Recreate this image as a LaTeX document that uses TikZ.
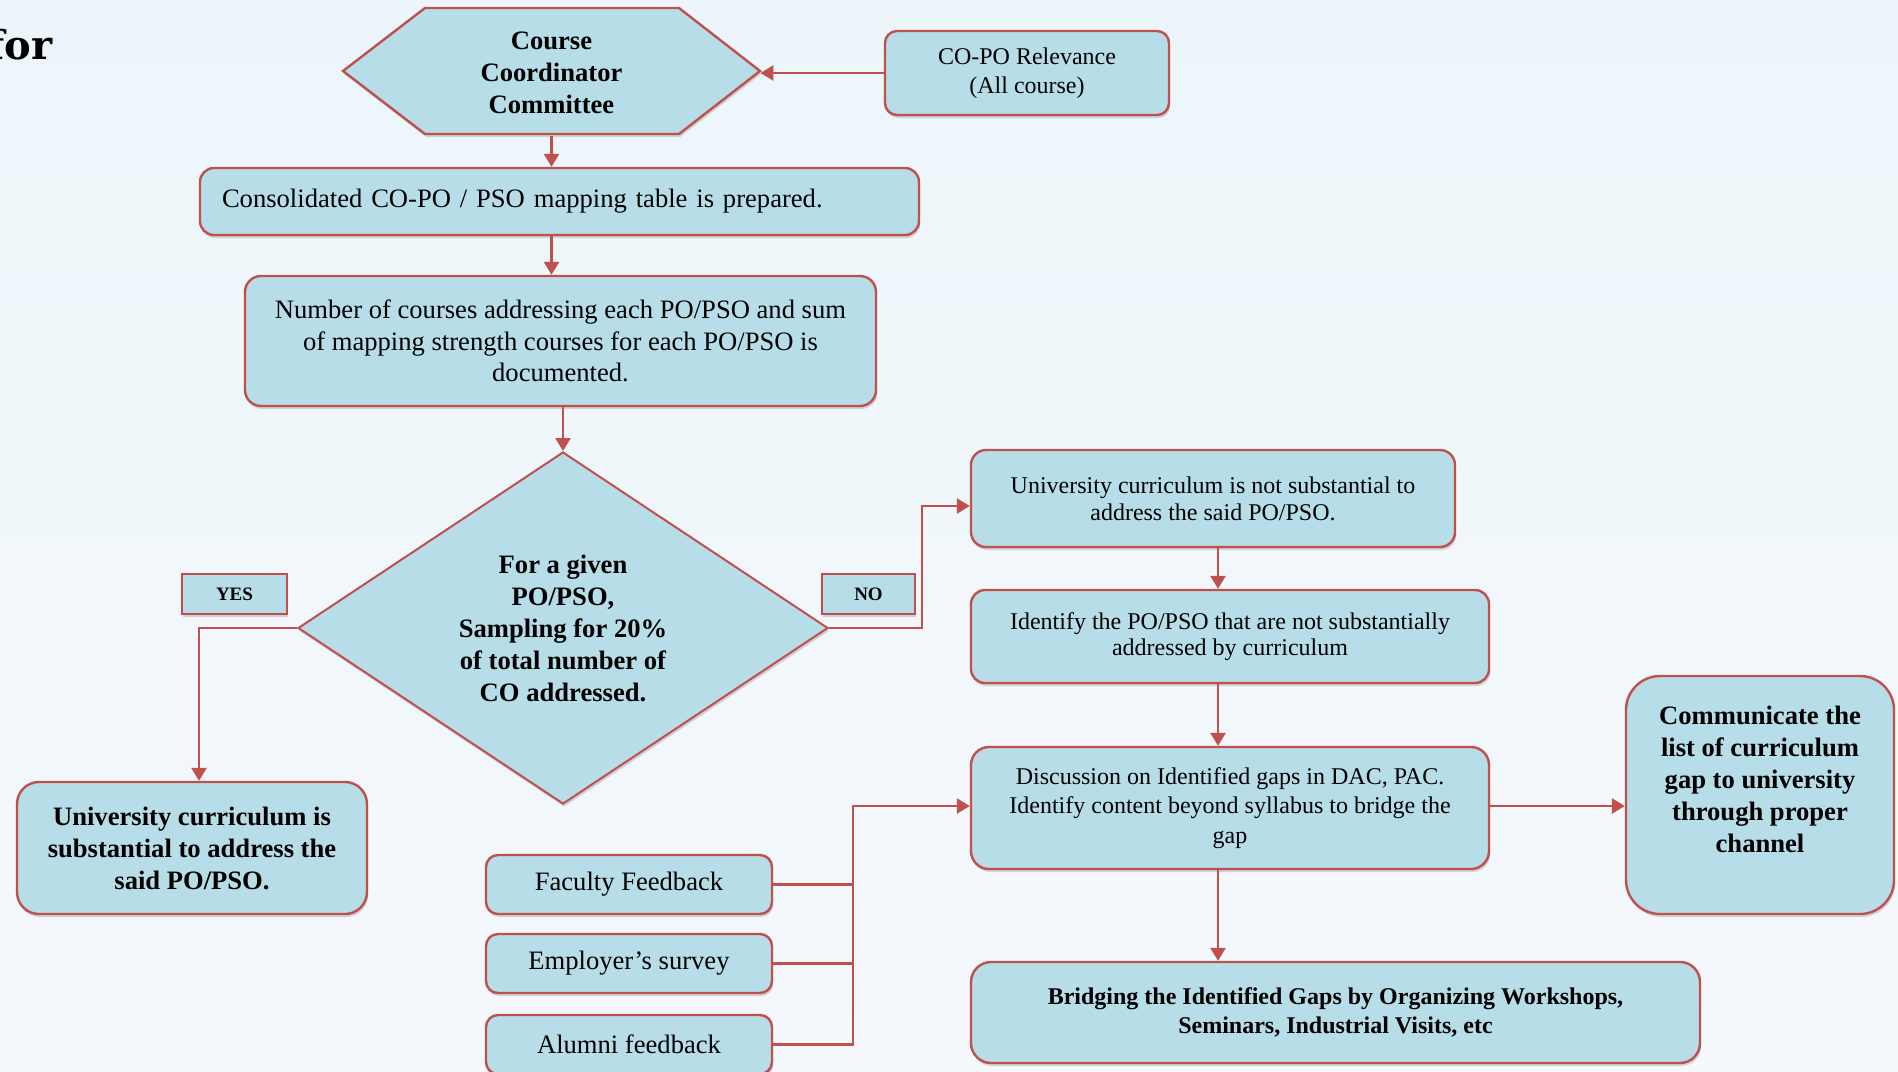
\documentclass[tikz,border=0pt]{standalone}
\usepackage{fontspec}
\setmainfont{Liberation Serif}
\newfontfamily\slabfont{DejaVu Serif}
\usetikzlibrary{shapes.geometric,arrows.meta,shadows}

\definecolor{boxfill}{RGB}{183,222,232}
\definecolor{boxline}{RGB}{192,80,77}
\definecolor{bgtop}{RGB}{236,246,250}
\definecolor{bgbottom}{RGB}{245,248,252}

\tikzset{
  softshadow/.style={drop shadow={shadow xshift=0.6pt, shadow yshift=-1.5pt, opacity=0.25, fill=black!60}},
  flowbox/.style={draw=boxline, fill=boxfill, line width=1.2pt, rounded corners=7pt,
    inner sep=0pt, align=center, softshadow},
  tagbox/.style={flowbox, rounded corners=0pt},
  link/.style={draw=boxline, line width=1.3pt},
  flowarrow/.style={link, -{Triangle[width=7.5pt,length=6.5pt]}},
  bigtxt/.style={font=\fontsize{13.3}{16}\selectfont},
  bigbold/.style={font=\fontsize{13.3}{16}\selectfont\bfseries},
  smalltxt/.style={font=\fontsize{12}{14.5}\selectfont},
}

\begin{document}
\begin{tikzpicture}[x=0.5pt, y=-0.5pt]
  % page background
  \fill[top color=bgtop, bottom color=bgbottom] (0,0) rectangle (1898,1071);
  \useasboundingbox (0,0) rectangle (1898,1071);

  % heading fragment
  \node[anchor=base east, inner sep=0pt, font=\slabfont\bfseries\fontsize{20}{24}\selectfont] (ttl) at (53,59) {for};

  % committee hexagon
  \draw[tagbox] (343,71) -- (425,8) -- (679,8) -- (760,71) -- (679,134) -- (425,134) -- cycle;
  \node[bigbold, align=center, minimum width=208.5pt, minimum height=63pt, inner sep=0pt] (ccc) at (551.5,73)
    {Course\\Coordinator\\Committee};

  \node[flowbox, smalltxt, rounded corners=6pt, minimum width=142pt, minimum height=42pt] (cop) at (1027,73)
    {CO-PO Relevance\\(All course)};

  \node[flowbox, bigtxt, align=left, text width=337.5pt, minimum width=359.5pt, minimum height=33.5pt] (cons) at (559.5,201.5)
    {Consolidated CO-PO / PSO mapping table is prepared.};

  \node[flowbox, font=\fontsize{13.3}{15.75}\selectfont, rounded corners=8pt, minimum width=315.5pt, minimum height=65pt] (num) at (560.5,341)
    {Number of courses addressing each PO/PSO and sum\\of mapping strength courses for each PO/PSO is\\documented.};

  \node[flowbox, bigbold, shape=diamond, aspect=1.5, rounded corners=0pt, line width=1pt,
        minimum width=265pt, minimum height=176pt] (dia) at (563,628)
    {For a given\\PO/PSO,\\Sampling for 20\%\\of total number of\\CO addressed.};

  \node[tagbox, font=\fontsize{9.5}{11}\selectfont\bfseries, minimum width=52.5pt, minimum height=20pt] (yes) at (234.5,594) {YES};
  \node[tagbox, font=\fontsize{9.5}{11}\selectfont\bfseries, minimum width=46.5pt, minimum height=20pt] (no) at (868.5,594) {NO};

  \node[flowbox, bigbold, rounded corners=11pt, minimum width=175pt, minimum height=66pt] (sub) at (192,848)
    {University curriculum is\\substantial to address the\\said PO/PSO.};

  \node[flowbox, font=\fontsize{12}{13.5}\selectfont, rounded corners=7.5pt, minimum width=242pt, minimum height=48.5pt] (nsub) at (1213,498.5)
    {University curriculum is not substantial to\\address the said PO/PSO.};

  \node[flowbox, font=\fontsize{12}{13}\selectfont, minimum width=259pt, minimum height=46.5pt] (ident) at (1230,636.5)
    {Identify the PO/PSO that are not substantially\\addressed by curriculum};

  \node[flowbox, font=\fontsize{12}{14.75}\selectfont, rounded corners=9pt, minimum width=259pt, minimum height=61pt] (disc) at (1230,808)
    {Discussion on Identified gaps in DAC, PAC.\\Identify content beyond syllabus to bridge the\\gap};

  \node[flowbox, bigbold, rounded corners=17pt, minimum width=134pt, minimum height=119pt] (comm) at (1760,795)
    {Communicate the\\list of curriculum\\gap to university\\through proper\\channel\\\mbox{}};

  \node[flowbox, font=\fontsize{12}{14.5}\selectfont\bfseries, rounded corners=10pt, minimum width=364.5pt, minimum height=50.5pt] (brid) at (1335.5,1012.5)
    {Bridging the Identified Gaps by Organizing Workshops,\\Seminars, Industrial Visits, etc};

  \node[flowbox, bigtxt, rounded corners=6pt, minimum width=143pt, minimum height=29.5pt] (fac) at (629,884.5) {Faculty Feedback};
  \node[flowbox, bigtxt, rounded corners=6pt, minimum width=143pt, minimum height=29.5pt] (emp) at (629,963.5) {Employer’s survey};
  \node[flowbox, bigtxt, rounded corners=6pt, minimum width=143pt, minimum height=29.5pt] (alu) at (629,1044.5) {Alumni feedback};

  % helper points for the vertical runs
  \coordinate (spine) at (1218,700);
  \coordinate (merge) at (853,806);

  % connectors
  \draw[flowarrow] (cop.west) -- (ccc.east);
  \draw[flowarrow] (ccc.south) -- (ccc.south |- cons.north);
  \draw[flowarrow] (cons.south -| ccc.south) -- (num.north -| ccc.south);
  \draw[flowarrow] (num.south -| dia.north) -- (dia.north);
  \draw[flowarrow] (dia.west) -| ([xshift=3.5pt]sub.north);
  \draw[flowarrow] (dia.east) -- ++(93,0) |- ([yshift=-3.75pt]nsub.west);
  \draw[flowarrow] (nsub.south -| spine) -- (ident.north -| spine);
  \draw[flowarrow] (ident.south -| spine) -- (disc.north -| spine);
  \draw[flowarrow] (disc.south -| spine) -- (brid.north -| spine);
  \draw[flowarrow] (disc.east |- merge) -- (comm.west |- merge);
  \draw[link] (fac.east) -- (fac.east -| merge);
  \draw[link] (emp.east) -- (emp.east -| merge);
  \draw[flowarrow] (alu.east) -| (merge) -- (disc.west |- merge);
\end{tikzpicture}
\end{document}
